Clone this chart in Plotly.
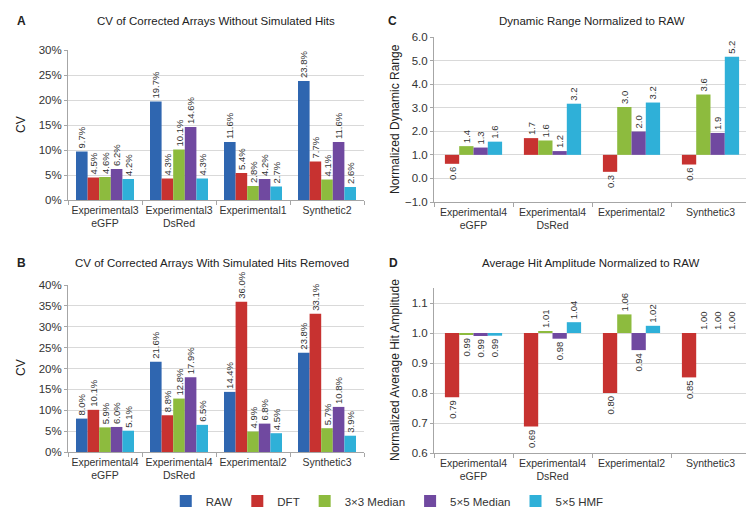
import plotly.graph_objects as go

W, H = 754, 511
FONT = "Liberation Sans, Arial, sans-serif"

series = ["RAW", "DFT", "3\u00d73 Median", "5\u00d75 Median", "5\u00d75 HMF"]
colors = ["#2f66b0", "#c73230", "#8dbb3e", "#7049a0", "#2fb0d8"]

cats_a = ["Experimental3<br>eGFP", "Experimental3<br>DsRed", "Experimental1", "Synthetic2"]
cats_b = ["Experimental4<br>eGFP", "Experimental4<br>DsRed", "Experimental2", "Synthetic3"]

# Panel A: CV (%) without simulated hits
a_raw = [9.7, 19.7, 11.6, 23.8]
a_dft = [4.5, 4.3, 5.4, 7.7]
a_m3 = [4.6, 10.1, 2.8, 4.1]
a_m5 = [6.2, 14.6, 4.2, 11.6]
a_hmf = [4.2, 4.3, 2.7, 2.6]

# Panel B: CV (%) with simulated hits removed
b_raw = [8.0, 21.6, 14.4, 23.8]
b_dft = [10.1, 8.8, 36.0, 33.1]
b_m3 = [5.9, 12.8, 4.9, 5.7]
b_m5 = [6.0, 17.9, 6.8, 10.8]
b_hmf = [5.1, 6.5, 4.5, 3.9]

# Panel C: dynamic range normalized to RAW (RAW = 1)
c_dft = [0.62, 1.71, 0.28, 0.59]
c_m3 = [1.37, 1.61, 3.03, 3.56]
c_m5 = [1.31, 1.16, 1.99, 1.93]
c_hmf = [1.56, 3.17, 3.22, 5.16]

# Panel D: average hit amplitude normalized to RAW (RAW = 1)
d_dft = [0.786, 0.688, 0.80, 0.852]
d_m3 = [0.994, 1.006, 1.062, 1.00]
d_m5 = [0.990, 0.981, 0.943, 1.00]
d_hmf = [0.991, 1.036, 1.024, 1.00]

fig = go.Figure()

def px_x(p):
    return p / W

def px_y(p):
    return 1 - p / H

TXT = dict(family=FONT, size=9.5, color="#333333")

def add_group(vals_list, names, cols, cats, xa, ya, wpx, catpx, base=None, fmt=".1f", suffix="", legend=False):
    n = len(vals_list)
    w = wpx / catpx
    for i, (vals, nm, col) in enumerate(zip(vals_list, names, cols)):
        off = -n * w / 2 + i * w
        if base is None:
            y = vals
            b = None
        else:
            y = [v - base for v in vals]
            b = base
        txt = [format(v, fmt) + suffix for v in vals]
        fig.add_trace(go.Bar(
            x=cats, y=y, base=b, name=nm, marker=dict(color=col, line=dict(width=0)),
            width=w, offset=off, xaxis=xa, yaxis=ya,
            text=txt, textposition="outside", textangle=-90, textfont=TXT,
            constraintext="none", cliponaxis=False,
            showlegend=legend, legendgroup=nm,
        ))

add_group([a_raw, a_dft, a_m3, a_m5, a_hmf], series, colors, cats_a, "x", "y", 11.6, 74, suffix="%", legend=True)
add_group([b_raw, b_dft, b_m3, b_m5, b_hmf], series, colors, cats_b, "x2", "y2", 11.6, 74, suffix="%")
add_group([c_dft, c_m3, c_m5, c_hmf], series[1:], colors[1:], cats_b, "x3", "y3", 14.3, 79, base=1.0)
add_group([d_dft, d_m3, d_m5, d_hmf], series[1:], colors[1:], cats_b, "x4", "y4", 14.3, 79, base=1.0, fmt=".2f")

xtickfont = dict(family=FONT, size=10.5, color="#333333")
ytickfont = dict(family=FONT, size=11.5, color="#333333")
grid = "#d9d9d9"
axline = "#a6a6a6"

def xaxis(dom, anchor):
    return dict(domain=dom, anchor=anchor, type="category", showgrid=False,
                showline=True, linecolor=axline, linewidth=1, ticks="outside",
                tickson="boundaries", ticklen=4, tickcolor=axline, tickfont=xtickfont,
                tickangle=0, automargin=False, fixedrange=True)

def yaxis(dom, anchor, rng, dtick, fmt, suffix=""):
    return dict(domain=dom, anchor=anchor, range=rng, dtick=dtick, tickformat=fmt,
                ticksuffix=suffix, showgrid=True, gridcolor=grid, gridwidth=1,
                showline=True, linecolor=axline, linewidth=1, ticks="outside",
                ticklen=3, tickcolor=axline, tickfont=ytickfont, zeroline=False,
                automargin=False, fixedrange=True)

xa_dom = [px_x(60), px_x(356)]
xc_dom = [px_x(426), px_x(742)]
ya_dom = [px_y(192), px_y(42)]
yb_dom = [px_y(444), px_y(277)]
yc_dom = [px_y(194), px_y(29)]
yd_dom = [px_y(445), px_y(280)]

fig.update_layout(
    width=W, height=H, margin=dict(l=0, r=0, t=0, b=0),
    paper_bgcolor="white", plot_bgcolor="white",
    barmode="overlay",
    font=dict(family=FONT, size=11, color="#333333"),
    xaxis=xaxis(xa_dom, "y"),
    yaxis=yaxis(ya_dom, "x", [0, 30], 5, "d", "%"),
    xaxis2=xaxis(xa_dom, "y2"),
    yaxis2=yaxis(yb_dom, "x2", [0, 40], 5, "d", "%"),
    xaxis3=xaxis(xc_dom, "y3"),
    yaxis3=yaxis(yc_dom, "x3", [-1, 6], 1, ".1f"),
    xaxis4=xaxis(xc_dom, "y4"),
    yaxis4=yaxis(yd_dom, "x4", [0.6, 1.15], 0.1, ".1f"),
    legend=dict(orientation="h", x=0.503, xanchor="center", y=px_y(493), yanchor="middle",
                font=dict(family=FONT, size=11.5, color="#333333"), traceorder="normal",
                itemclick=False, itemdoubleclick=False, itemwidth=30),
    showlegend=True,
)

ann = []
def text_ann(t, x, y, size=11.5, bold=False, angle=0, xanchor="center"):
    ann.append(dict(text=("<b>%s</b>" % t) if bold else t, x=px_x(x), y=px_y(y),
                    xref="paper", yref="paper", showarrow=False, textangle=angle,
                    xanchor=xanchor, yanchor="middle",
                    font=dict(family=FONT, size=size, color="#222222")))

text_ann("A", 7, 13, 12, True, xanchor="left")
text_ann("B", 7, 255, 12, True, xanchor="left")
text_ann("C", 378, 13, 12, True, xanchor="left")
text_ann("D", 379, 255, 12, True, xanchor="left")
text_ann("CV of Corrected Arrays Without Simulated Hits", 208, 13)
text_ann("CV of Corrected Arrays With Simulated Hits Removed", 204, 255)
text_ann("Dynamic Range Normalized to RAW", 584, 13)
text_ann("Average Hit Amplitude Normalized to RAW", 582, 255)
text_ann("CV", 13, 117, 12, angle=-90)
text_ann("CV", 13, 360, 12, angle=-90)
text_ann("Normalized Dynamic Range", 387, 111, 12, angle=-90)
text_ann("Normalized Average Hit Amplitude", 387, 362, 12, angle=-90)
fig.update_layout(annotations=ann)

fig.write_html("out.html")
